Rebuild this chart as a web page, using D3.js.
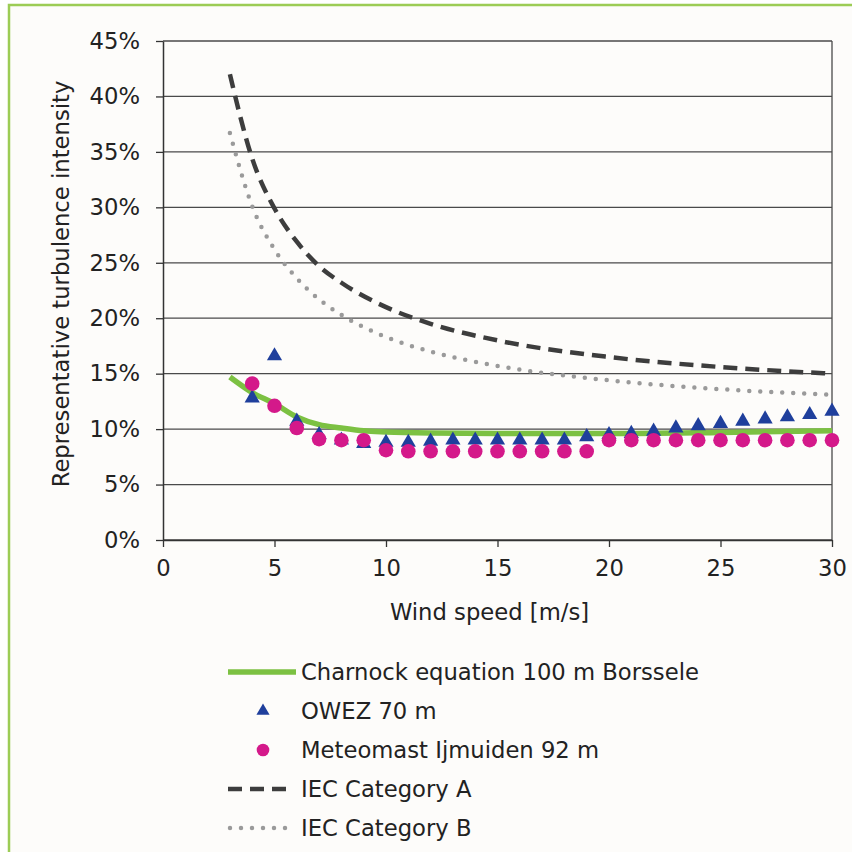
<!DOCTYPE html>
<html>
<head>
<meta charset="utf-8">
<script src="https://cdn.jsdelivr.net/npm/d3@7"></script>
<style>
  body { margin: 0; background: #fff; }
  svg { display: block; font-family: "DejaVu Sans", Verdana, sans-serif; }
</style>
</head>
<body>
<svg width="852" height="852"></svg>
<script>
// wind speed [m/s] for the measured series
const owezX = [4,5,6,7,8,9,10,11,12,13,14,15,16,17,18,19,20,21,22,23,24,25,26,27,28,29,30];
const owezY = [12.8,16.6,10.7,9.5,9.0,8.7,8.8,8.8,8.9,9.0,9.0,9.0,9.0,9.0,9.0,9.3,9.5,9.6,9.8,10.1,10.3,10.5,10.7,10.9,11.1,11.3,11.6];

const mastX = [4,5,6,7,8,9,10,11,12,13,14,15,16,17,18,19,20,21,22,23,24,25,26,27,28,29,30];
const mastY = [14.1,12.1,10.1,9.1,9.0,9.0,8.1,8.0,8.0,8.0,8.0,8.0,8.0,8.0,8.0,8.0,9.0,9.0,9.0,9.0,9.0,9.0,9.0,9.0,9.0,9.0,9.0];

// Charnock curve, read at a few points
const charX = [3,4,5,6,7,8,9,10,12,15,20,25,30];
const charY = [14.7,13.3,12.3,11.1,10.4,10.1,9.85,9.75,9.65,9.6,9.6,9.7,9.85];

// IEC curves, read at a few points
const iecX = [3,4,5,6,7,8,10,12,15,20,25,30];
const iecA = [42.0,34.4,29.9,26.9,24.7,23.2,21.0,19.5,18.0,16.5,15.6,15.0];
const iecB = [36.7,30.1,26.2,23.6,21.7,20.3,18.3,17.0,15.7,14.4,13.6,13.1];

const xTicks = [0,5,10,15,20,25,30];
const yTicks = [0,5,10,15,20,25,30,35,40,45];

const legendItems = [
  { label: "Charnock equation 100 m Borssele", kind: "char" },
  { label: "OWEZ 70 m", kind: "owez" },
  { label: "Meteomast Ijmuiden 92 m", kind: "mast" },
  { label: "IEC Category A", kind: "iecA" },
  { label: "IEC Category B", kind: "iecB" }
];

const green = "#7cc142", blue = "#1f3f9c", pink = "#d4198a";
const darkDash = "#3d3d3d", greyDot = "#9a9a9a";
const fs = 22.7;

let svg = d3.select("svg");

// frame
svg.append("rect").attr("x", 9).attr("y", 5).attr("width", 860).attr("height", 860)
  .attr("fill", "#fdfcfa").attr("stroke", "#9ccc55").attr("stroke-width", 2.5);

const m = { left: 163, right: 832, top: 41, bottom: 540 };

let x = d3.scaleLinear().domain([0, 30]).range([m.left, m.right]);
let y = d3.scaleLinear().domain([0, 45]).range([m.bottom, m.top]);

// gridlines
svg.append("g").selectAll("line").data(yTicks).enter().append("line")
  .attr("x1", m.left).attr("x2", m.right)
  .attr("y1", d => y(d)).attr("y2", d => y(d))
  .attr("stroke", "#4a4a4a").attr("stroke-width", 1.3);

svg.append("line").attr("x1", m.right).attr("x2", m.right).attr("y1", m.top).attr("y2", m.bottom)
  .attr("stroke", "#4a4a4a").attr("stroke-width", 1.3);

// axes
let yAxis = svg.append("g").attr("transform", `translate(${m.left},0)`)
  .call(d3.axisLeft(y).tickValues(yTicks).tickSize(7).tickSizeOuter(0).tickPadding(16).tickFormat(d => d + "%"));
let xAxis = svg.append("g").attr("transform", `translate(0,${m.bottom})`)
  .call(d3.axisBottom(x).tickValues(xTicks).tickSize(7).tickSizeOuter(0).tickPadding(13));

[yAxis, xAxis].forEach(a => {
  a.select(".domain").attr("stroke", "#333").attr("stroke-width", 1.5);
  a.selectAll(".tick line").attr("stroke", "#333").attr("stroke-width", 1.3);
  a.selectAll("text").attr("font-size", fs).attr("fill", "#222")
    .attr("font-family", "DejaVu Sans, Verdana, sans-serif");
});

// axis titles
svg.append("text").attr("x", (m.left + m.right) / 2 - 8).attr("y", 620)
  .attr("text-anchor", "middle").attr("font-size", fs).attr("fill", "#222")
  .text("Wind speed [m/s]");
svg.append("text").attr("transform", "translate(69,284) rotate(-90)")
  .attr("text-anchor", "middle").attr("font-size", fs).attr("fill", "#222")
  .text("Representative turbulence intensity");

// curves
let line = d3.line().x(d => x(d[0])).y(d => y(d[1])).curve(d3.curveMonotoneX);

svg.append("path").attr("d", line(d3.zip(iecX, iecB)))
  .attr("fill", "none").attr("stroke", greyDot).attr("stroke-width", 4.5)
  .attr("stroke-linecap", "round").attr("stroke-dasharray", "0 11");
svg.append("path").attr("d", line(d3.zip(iecX, iecA)))
  .attr("fill", "none").attr("stroke", darkDash).attr("stroke-width", 4.5)
  .attr("stroke-dasharray", "14 8");
svg.append("path").attr("d", line(d3.zip(charX, charY)))
  .attr("fill", "none").attr("stroke", green).attr("stroke-width", 5.5);

const tri = d3.symbol().type(d3.symbolTriangle).size(100);

svg.append("g").selectAll("path").data(d3.zip(owezX, owezY)).enter().append("path")
  .attr("d", tri)
  .attr("transform", d => `translate(${x(d[0])},${y(d[1])})`)
  .attr("fill", blue);

svg.append("g").selectAll("circle").data(d3.zip(mastX, mastY)).enter().append("circle")
  .attr("cx", d => x(d[0])).attr("cy", d => y(d[1])).attr("r", 7.3)
  .attr("fill", pink);

// legend
let lg = svg.append("g").selectAll("g").data(legendItems).enter().append("g")
  .attr("transform", (d, i) => `translate(0,${672 + i * 39})`);

lg.append("text").attr("x", 301).attr("y", 8).attr("font-size", fs).attr("fill", "#222")
  .text(d => d.label);

lg.each(function (d) {
  let g = d3.select(this);
  if (d.kind == "char") {
    g.append("line").attr("x1", 228).attr("x2", 296).attr("stroke", green).attr("stroke-width", 5.5);
  } else if (d.kind == "owez") {
    g.append("path").attr("d", d3.symbol().type(d3.symbolTriangle).size(75)).attr("transform", "translate(263,0)").attr("fill", blue);
  } else if (d.kind == "mast") {
    g.append("circle").attr("cx", 263).attr("r", 6.3).attr("fill", pink);
  } else if (d.kind == "iecA") {
    g.append("line").attr("x1", 228).attr("x2", 292).attr("stroke", darkDash).attr("stroke-width", 4.5)
      .attr("stroke-dasharray", "14 8");
  } else {
    g.append("line").attr("x1", 230).attr("x2", 294).attr("stroke", greyDot).attr("stroke-width", 4.5)
      .attr("stroke-linecap", "round").attr("stroke-dasharray", "0 11");
  }
});
</script>
</body>
</html>
